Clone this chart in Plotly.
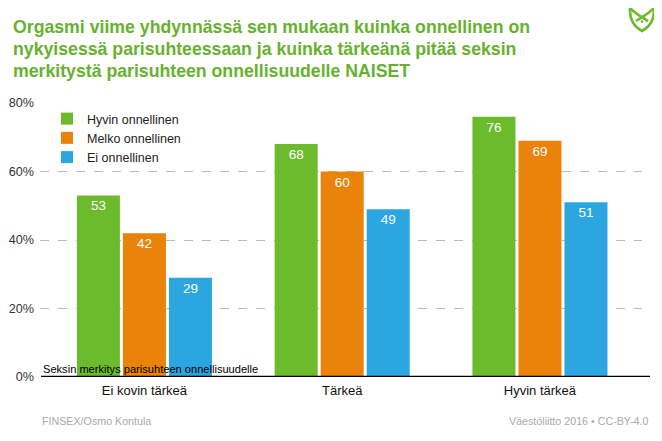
import plotly.graph_objects as go

categories = ["Ei kovin tärkeä", "Tärkeä", "Hyvin tärkeä"]
series_names = ["Hyvin onnellinen", "Melko onnellinen", "Ei onnellinen"]
hyvin = [53, 68, 76]
melko = [42, 60, 69]
ei = [29, 49, 51]
colors = ["#6CBB2C", "#E9830A", "#2CA6E0"]
y_ticks = [0, 20, 40, 60, 80]
y_tick_labels = ["0%", "20%", "40%", "60%", "80%"]

title_lines = [
    "Orgasmi viime yhdynnässä sen mukaan kuinka onnellinen on",
    "nykyisessä parisuhteessaan ja kuinka tärkeänä pitää seksin",
    "merkitystä parisuhteen onnellisuudelle NAISET",
]

# page is shown with an 8px body margin; the figure is sized to fill the rest
OFF = 8
W, H = 662 - OFF, 441 - OFF
L, R, T, B = 40 - OFF, 20, 103 - OFF, 64
FONT = "Liberation Sans, Arial"

fig = go.Figure()
for name, vals, col in zip(series_names, [hyvin, melko, ei], colors):
    fig.add_trace(go.Bar(
        x=categories, y=vals, name=name, marker=dict(color=col, line=dict(width=0)),
        text=[str(v) for v in vals], textposition="inside", insidetextanchor="end",
        textangle=0, constraintext="none",
        textfont=dict(color="white", size=13.5, family=FONT),
    ))

def px(x, y):
    """page pixel -> paper coords"""
    x -= OFF
    y -= OFF
    return (x - L) / (W - L - R), (H - B - y) / (H - T - B)

def path_from(points):
    s = ""
    for cmd, pts in points:
        s += cmd
        s += " ".join("%.5f,%.5f" % px(*p) for p in pts) + " "
    return s.strip()

green = "#6CBB2C"
shapes = []
outer = path_from([("M", [(630, 8)]), ("Q", [(629, 24), (642, 31)]), ("Q", [(655, 24), (654, 8)])])
shapes.append(dict(type="path", path=outer, xref="paper", yref="paper",
                   line=dict(color=green, width=2.6)))
cross1 = path_from([("M", [(630, 8)]), ("Q", [(636, 14), (648, 21)])])
cross2 = path_from([("M", [(654, 8)]), ("Q", [(648, 14), (636, 21)])])
for p in (cross1, cross2):
    shapes.append(dict(type="path", path=p, xref="paper", yref="paper",
                       line=dict(color=green, width=2.6)))
diamond = path_from([("M", [(642, 16)]), ("L", [(647.5, 21.5), (642, 27), (636.5, 21.5)]), ("Z", [])])
shapes.append(dict(type="path", path=diamond, xref="paper", yref="paper",
                   line=dict(color=green, width=2.2)))
dx0, dy0 = px(640.7, 20.2)
dx1, dy1 = px(643.3, 22.8)
shapes.append(dict(type="circle", xref="paper", yref="paper", x0=dx0, x1=dx1, y0=dy1, y1=dy0,
                   fillcolor=green, line=dict(width=0)))
# zero line
shapes.append(dict(type="line", xref="paper", yref="y", x0=px(41, 0)[0], x1=px(650, 0)[0], y0=0, y1=0,
                   line=dict(color="black", width=2.5)))

annotations = []
for i, line in enumerate(title_lines):
    annotations.append(dict(
        text="<b>%s</b>" % line, xref="paper", yref="paper",
        x=px(11, 0)[0], y=px(0, 26.5 + i * 22)[1], xanchor="left", yanchor="middle",
        showarrow=False, font=dict(size=17.7, color="#66B22E", family=FONT),
    ))
annotations.append(dict(
    text="Seksin merkitys parisuhteen onnellisuudelle", xref="paper", yref="paper",
    x=px(41, 0)[0], y=px(0, 368.5)[1], xanchor="left", yanchor="middle", showarrow=False,
    font=dict(size=11.1, color="black", family=FONT),
))
annotations.append(dict(
    text="FINSEX/Osmo Kontula", xref="paper", yref="paper",
    x=px(40, 0)[0], y=px(0, 421)[1], xanchor="left", yanchor="middle", showarrow=False,
    font=dict(size=10.7, color="#AAAAAA", family=FONT),
))
annotations.append(dict(
    text="Väestöliitto 2016 • CC-BY-4.0", xref="paper", yref="paper",
    x=px(650, 0)[0], y=px(0, 421)[1], xanchor="right", yanchor="middle", showarrow=False,
    font=dict(size=10.7, color="#AAAAAA", family=FONT),
))

fig.update_layout(
    width=W, height=H,
    margin=dict(l=L, r=R, t=T, b=B, pad=0, autoexpand=False),
    paper_bgcolor="white", plot_bgcolor="white",
    barmode="group", bargap=0.302, bargroupgap=0.065,
    font=dict(family=FONT, color="#222222"),
    showlegend=True,
    legend=dict(x=px(47, 0)[0], y=px(0, 104)[1], xanchor="left", yanchor="top",
                bgcolor="rgba(0,0,0,0)", font=dict(size=12.5, color="#222222"),
                tracegroupgap=0, itemwidth=30, traceorder="normal"),
    shapes=shapes, annotations=annotations,
    xaxis=dict(range=[-0.528, 2.516], showgrid=False, showline=False, ticks="",
               tickfont=dict(size=13, color="#111111"), fixedrange=True,
               ticklabelstandoff=4, automargin=False),
    yaxis=dict(range=[0, 80], tickvals=y_ticks, ticktext=y_tick_labels,
               showgrid=True, gridcolor="#BBBBBB", griddash="dash", gridwidth=1,
               zeroline=False, showline=False, ticks="", automargin=False,
               tickfont=dict(size=12.6, color="#333333"), ticklabelstandoff=5),
)

fig.write_html("out.html")
